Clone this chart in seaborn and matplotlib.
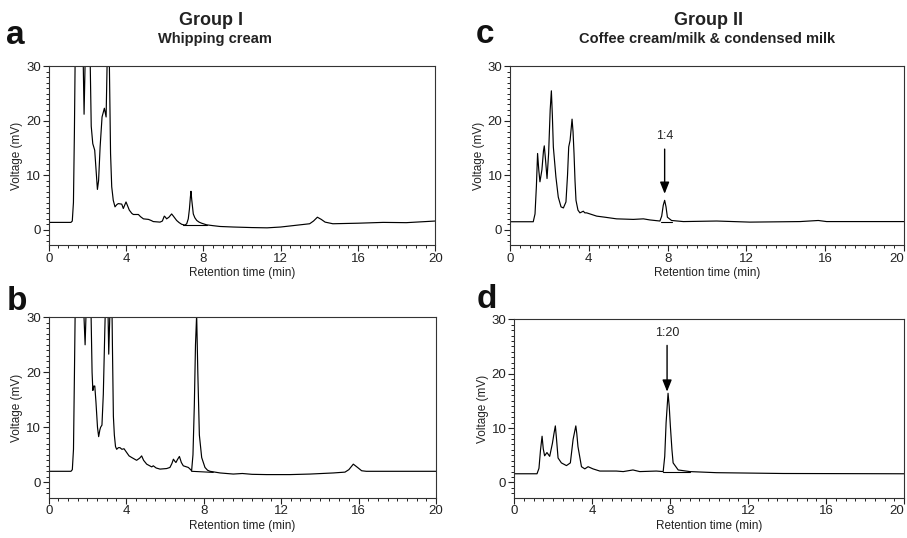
import matplotlib
matplotlib.use("Agg")
import matplotlib.pyplot as plt
from matplotlib.ticker import MultipleLocator
import seaborn as sns
import pandas as pd

# ---------------- data ----------------
a_time = [0.0, 1.15, 1.22, 1.28, 1.33, 1.37, 1.6, 1.78, 1.83, 1.88, 1.93, 2.05, 2.15, 2.2, 2.28, 2.38,
          2.45, 2.52, 2.58, 2.66, 2.76, 2.88, 2.97, 3.03, 3.1, 3.14, 3.2, 3.26, 3.34, 3.43, 3.52, 3.6,
          3.78, 3.86, 3.94, 4.0, 4.08, 4.17, 4.3, 4.38, 4.64, 4.75, 4.9, 5.16, 5.3, 5.41, 5.76, 5.88,
          5.98, 6.04, 6.1, 6.22, 6.36, 6.45, 6.62, 6.75, 6.88, 7.05, 7.14, 7.22, 7.28, 7.33, 7.36, 7.4,
          7.48, 7.56, 7.66, 7.78, 7.91, 8.17, 8.5, 8.86, 9.55, 10.5, 11.3, 12.0, 13.0, 13.5, 13.7, 13.9,
          14.1, 14.3, 14.7, 16.0, 17.3, 18.5, 20.0]
a_volt = [1.35, 1.35, 1.6, 5.0, 18.0, 32.0, 45.0, 32.0, 21.2, 30.0, 40.0, 40.0, 30.0, 19.0, 15.8, 14.6,
          11.0, 7.4, 9.0, 15.2, 20.7, 22.3, 20.7, 32.0, 40.0, 30.0, 14.0, 7.9, 5.4, 4.2, 4.6, 4.8,
          4.7, 3.9, 4.6, 5.1, 4.4, 3.6, 3.0, 2.8, 2.8, 2.4, 2.0, 1.9, 1.7, 1.5, 1.4, 1.6,
          2.5, 2.3, 2.0, 2.3, 2.9, 2.5, 1.7, 1.3, 1.0, 0.85, 1.1, 2.0, 3.8, 6.0, 7.06, 5.5,
          2.9, 2.2, 1.7, 1.4, 1.2, 0.9, 0.75, 0.6, 0.5, 0.4, 0.35, 0.5, 0.9, 1.1, 1.6, 2.3,
          1.9, 1.4, 1.1, 1.2, 1.35, 1.3, 1.6]
a_base_time = [6.93, 8.17]
a_base_volt = [0.86, 0.86]

b_time = [0.0, 1.15, 1.22, 1.28, 1.33, 1.37, 1.6, 1.8, 1.88, 1.94, 2.05, 2.18, 2.24, 2.28, 2.33, 2.38,
          2.44, 2.52, 2.58, 2.64, 2.68, 2.75, 2.82, 2.9, 2.93, 3.02, 3.1, 3.17, 3.24, 3.29, 3.34, 3.39,
          3.45, 3.51, 3.6, 3.68, 3.78, 3.89, 4.03, 4.15, 4.29, 4.54, 4.7, 4.8, 4.9, 5.06, 5.32, 5.4,
          5.55, 5.75, 6.09, 6.26, 6.36, 6.44, 6.52, 6.57, 6.66, 6.75, 6.85, 6.95, 7.21, 7.3, 7.38, 7.45,
          7.52, 7.58, 7.64, 7.7, 7.78, 7.9, 8.07, 8.2, 8.33, 8.85, 9.53, 10.0, 10.5, 11.26, 12.46, 13.5,
          14.7, 15.3, 15.5, 15.73, 15.95, 16.16, 16.4, 20.0]
b_volt = [2.0, 2.0, 2.3, 6.0, 20.0, 32.0, 45.0, 32.0, 25.0, 32.0, 45.0, 32.0, 20.0, 16.7, 17.5, 17.5,
          14.6, 10.0, 8.3, 9.5, 10.0, 10.4, 16.0, 28.0, 32.0, 40.0, 23.3, 32.0, 40.0, 25.0, 12.0, 8.6,
          6.5, 6.0, 6.3, 6.3, 6.0, 6.1, 5.4, 4.8, 4.5, 4.0, 4.4, 4.8, 4.0, 3.3, 2.8, 3.0,
          2.6, 2.4, 2.5, 2.7, 3.4, 4.2, 3.8, 3.6, 4.2, 4.7, 3.6, 3.0, 2.7, 2.4, 2.1, 5.0,
          14.0, 25.0, 30.5, 20.0, 8.6, 4.5, 2.7, 2.2, 2.0, 1.7, 1.5, 1.6, 1.45, 1.4, 1.4, 1.5,
          1.7, 1.85, 2.3, 3.3, 2.7, 2.1, 2.0, 2.0]
b_base_time = [7.38, 8.5]
b_base_volt = [2.0, 1.8]

c_time = [0.0, 1.18, 1.27, 1.34, 1.4, 1.46, 1.52, 1.62, 1.7, 1.74, 1.8, 1.88, 1.96, 2.04, 2.1, 2.15,
          2.2, 2.33, 2.45, 2.59, 2.71, 2.84, 2.92, 2.98, 3.05, 3.15, 3.2, 3.25, 3.3, 3.35, 3.45, 3.55,
          3.72, 3.8, 3.89, 4.06, 4.4, 4.82, 5.41, 6.26, 6.77, 7.1, 7.61, 7.7, 7.78, 7.85, 7.92, 7.99,
          8.2, 8.8, 10.49, 12.18, 14.72, 15.65, 16.07, 20.0]
c_volt = [1.47, 1.47, 2.9, 8.0, 14.0, 11.0, 8.8, 11.0, 14.5, 15.4, 13.0, 9.4, 14.0, 22.0, 25.5, 21.0,
          15.2, 9.7, 6.0, 4.2, 4.0, 5.1, 10.0, 15.2, 16.4, 20.3, 18.0, 14.0, 9.0, 5.4, 3.6, 3.1,
          3.4, 3.1, 3.1, 2.9, 2.5, 2.3, 2.0, 1.9, 2.0, 1.8, 1.6, 2.5, 4.5, 5.4, 4.2, 2.3,
          1.7, 1.5, 1.6, 1.4, 1.5, 1.7, 1.5, 1.5]
c_base_time = [7.65, 8.2]
c_base_volt = [1.5, 1.5]

d_time = [0.0, 1.18, 1.28, 1.36, 1.44, 1.5, 1.57, 1.69, 1.83, 1.97, 2.05, 2.12, 2.18, 2.26, 2.43, 2.69,
          2.89, 3.03, 3.17, 3.22, 3.28, 3.46, 3.63, 3.8, 4.05, 4.4, 5.25, 5.6, 6.1, 6.45, 7.3, 7.65,
          7.73, 7.8, 7.9, 7.96, 8.02, 8.1, 8.16, 8.42, 9.02, 10.38, 13.8, 20.0]
d_volt = [1.6, 1.6, 2.6, 6.0, 8.5, 6.2, 4.9, 5.5, 4.8, 7.2, 9.0, 10.4, 8.0, 4.5, 3.6, 3.1,
          3.6, 7.9, 10.4, 9.0, 6.6, 2.9, 2.5, 2.9, 2.5, 2.1, 2.1, 2.0, 2.3, 2.0, 2.1, 2.0,
          4.8, 11.0, 16.4, 14.0, 10.3, 6.0, 3.6, 2.3, 2.0, 1.8, 1.65, 1.6]
d_base_time = [7.65, 9.0]
d_base_volt = [1.9, 1.9]

c_note = "1:4"
c_note_time, c_note_text_y, c_arrow_top, c_arrow_tip = 7.85, 17.2, 14.8, 6.6
d_note = "1:20"
d_note_time, d_note_text_y, d_arrow_top, d_arrow_tip = 7.85, 27.5, 25.2, 16.7

x_ticks = [0, 4, 8, 12, 16, 20]
y_ticks = [0, 10, 20, 30]

# ---------------- style ----------------
sns.set_style("ticks")
plt.rcParams["font.family"] = ["Liberation Sans", "DejaVu Sans"]
plt.rcParams["axes.linewidth"] = 0.8

W, H = 907, 538
fig = plt.figure(figsize=(W / 100, H / 100), dpi=100)


def box(l, t, r, b):
    return [l / W, 1 - b / H, (r - l) / W, (b - t) / H]


axes = {
    "a": fig.add_axes(box(48.7, 66.3, 435.3, 245.0)),
    "c": fig.add_axes(box(510.0, 66.3, 904.0, 245.0)),
    "b": fig.add_axes(box(48.7, 317.3, 436.0, 497.7)),
    "d": fig.add_axes(box(514.0, 319.3, 904.0, 497.7)),
}

traces = {
    "a": (a_time, a_volt, a_base_time, a_base_volt),
    "b": (b_time, b_volt, b_base_time, b_base_volt),
    "c": (c_time, c_volt, c_base_time, c_base_volt),
    "d": (d_time, d_volt, d_base_time, d_base_volt),
}

for key, ax in axes.items():
    t, v, bt, bv = traces[key]
    df = pd.DataFrame({"time": t, "volt": v})
    sns.lineplot(data=df, x="time", y="volt", ax=ax, color="black", lw=0.85,
                 estimator=None, sort=False)
    dfb = pd.DataFrame({"time": bt, "volt": bv})
    sns.lineplot(data=dfb, x="time", y="volt", ax=ax, color="black", lw=0.8,
                 estimator=None, sort=False)
    ax.set_xlim(0, 20)
    ax.set_ylim(-2.8, 30)
    ax.set_xticks(x_ticks)
    ax.set_yticks(y_ticks)
    ax.xaxis.set_minor_locator(MultipleLocator(0.5))
    ax.yaxis.set_minor_locator(MultipleLocator(1))
    ax.tick_params(which="major", direction="out", length=4, width=0.8, labelsize=9.5,
                   colors="#222222", pad=1.5)
    ax.tick_params(which="minor", direction="out", length=2.2, width=0.7, colors="#222222")
    ax.set_xlabel("Retention time (min)", fontsize=8.5, labelpad=2, color="#222222")
    ax.set_ylabel("Voltage (mV)", fontsize=8.5, labelpad=2, color="#222222")
    for s in ax.spines.values():
        s.set_color("#333333")
        s.set_linewidth(0.8)
    ax.set_facecolor("white")

# the last x tick label of the right-hand panels sits at the figure edge
for key in ("c", "d"):
    fig.canvas.draw()
    axes[key].get_xticklabels()[-1].set_horizontalalignment("right")
    axes[key].get_xticklabels()[-1].set_x(20)

for ax, note, nt, ny, top, tip in [
    (axes["c"], c_note, c_note_time, c_note_text_y, c_arrow_top, c_arrow_tip),
    (axes["d"], d_note, d_note_time, d_note_text_y, d_arrow_top, d_arrow_tip),
]:
    ax.annotate("", xy=(nt, tip), xytext=(nt, top),
                arrowprops=dict(arrowstyle="-|>,head_length=0.7,head_width=0.28", color="black",
                                lw=1.0, mutation_scale=10, shrinkA=0, shrinkB=0))
    ax.text(nt, ny, note, ha="center", va="center", fontsize=9, color="#222222")

# titles and panel letters
fig.text(211 / W, 1 - 25 / H, "Group I", ha="center", va="baseline", fontsize=13, fontweight="bold",
         color="#222222")
fig.text(215 / W, 1 - 43.3 / H, "Whipping cream", ha="center", va="baseline", fontsize=10.5,
         fontweight="bold", color="#222222")
fig.text(709 / W, 1 - 25 / H, "Group II", ha="center", va="baseline", fontsize=13, fontweight="bold",
         color="#222222")
fig.text(707 / W, 1 - 43.3 / H, "Coffee cream/milk & condensed milk", ha="center", va="baseline",
         fontsize=10.5, fontweight="bold", color="#222222")

for letter, xpx, ypx in [("a", 6, 44), ("c", 476, 43.3), ("b", 7, 310), ("d", 477, 307.7)]:
    fig.text(xpx / W, 1 - ypx / H, letter, ha="left", va="baseline", fontsize=24, fontweight="bold",
             color="#111111")

fig.savefig("out.png", dpi=100, facecolor="white")
